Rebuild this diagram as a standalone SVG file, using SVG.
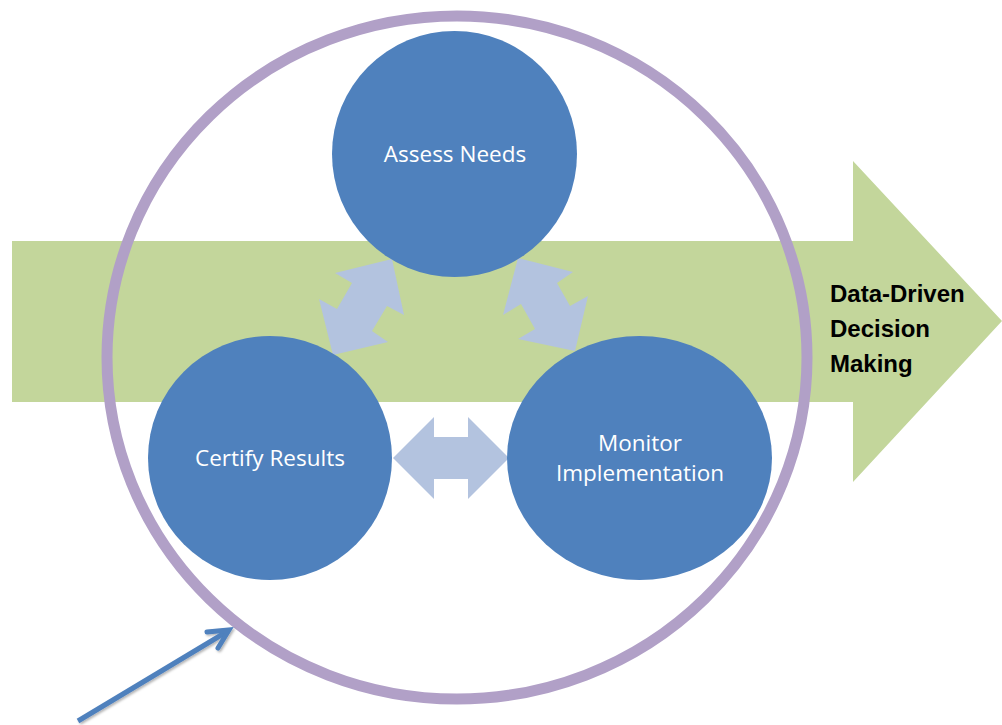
<svg xmlns="http://www.w3.org/2000/svg" width="1002" height="725" viewBox="0 0 1002 725">
  <style>
    .node { fill: #4F81BD; }
    .node-label { fill: #FFFFFF; font-family: "Open Sans", "Liberation Sans", sans-serif; font-size: 22.5px; text-anchor: middle; }
    .link { fill: #B3C3DF; }
    .outcome { fill: #000000; font-family: "Liberation Sans", Arial, sans-serif; font-size: 24px; font-weight: bold; }
  </style>
  <defs>
    <filter id="soft-shadow" x="-20%" y="-20%" width="140%" height="140%">
      <feDropShadow dx="1.5" dy="1.5" stdDeviation="1.2" flood-color="#000000" flood-opacity="0.3"/>
    </filter>
  </defs>

  <rect width="1002" height="725" fill="#FFFFFF"/>

  <!-- Broad process arrow running left to right -->
  <g id="process-arrow">
    <polygon points="12,241 853,241 853,161 1002,321 853,482 853,402 12,402" fill="#C3D69B"/>
    <text class="outcome" x="830" y="302">Data-Driven</text>
    <text class="outcome" x="830" y="337">Decision</text>
    <text class="outcome" x="830" y="372">Making</text>
  </g>

  <!-- Enclosing cycle boundary -->
  <g id="boundary">
    <ellipse cx="457" cy="357.5" rx="350" ry="341.5" fill="none" stroke="#B1A0C7" stroke-width="11"/>
  </g>

  <!-- Two-way links between the stages -->
  <g id="connectors">
    <polygon class="link" points="392,259 335,273 352,283 337,309 319,299 333,355 388,342 372,331 387,306 404,315"/>
    <polygon class="link" points="518,258 573,272 557,283 570,306 588,296 575,351 518,339 535,329 521,304 503,315"/>
    <polygon class="link" points="393,458 434,417 434,437 468,437 468,417 509,458 468,499 468,479 434,479 434,499"/>
  </g>

  <g id="assess-needs">
    <ellipse class="node" cx="454.5" cy="154" rx="122.5" ry="123"/>
    <text class="node-label" x="455" y="162">Assess Needs</text>
  </g>

  <g id="certify-results">
    <ellipse class="node" cx="270" cy="458" rx="122" ry="122"/>
    <text class="node-label" x="270" y="466">Certify Results</text>
  </g>

  <g id="monitor-implementation">
    <ellipse class="node" cx="639.5" cy="458" rx="132.5" ry="122"/>
    <text class="node-label" x="640" y="451">Monitor</text>
    <text class="node-label" x="640" y="481">Implementation</text>
  </g>

  <!-- Pointer toward the boundary -->
  <g id="pointer" filter="url(#soft-shadow)">
    <path d="M78,721 L228,631" fill="none" stroke="#4F81BD" stroke-width="5"/>
    <path d="M207,632 L229,630 L218,648" fill="none" stroke="#4F81BD" stroke-width="5" stroke-linecap="round" stroke-linejoin="miter"/>
  </g>
</svg>
